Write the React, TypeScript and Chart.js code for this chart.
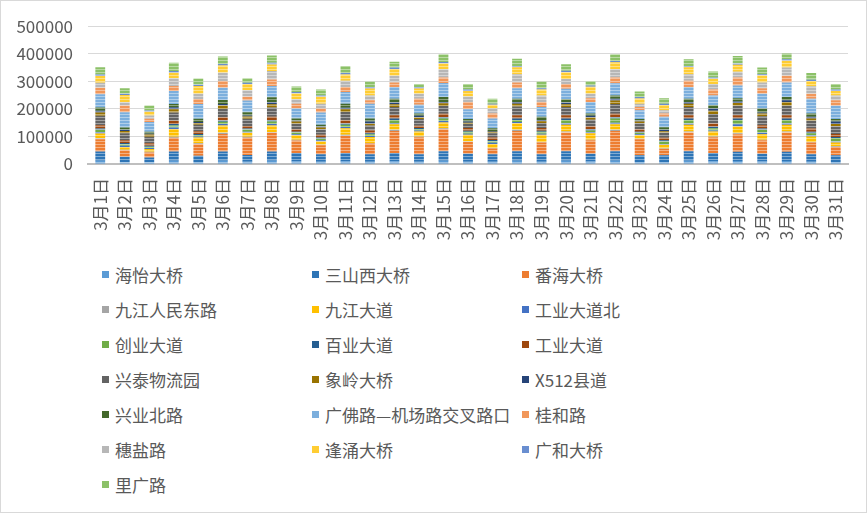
import React, { useRef, useEffect } from 'react';
import { Chart, registerables } from 'chart.js';

Chart.register(...registerables);

const FONT = '"Noto Sans CJK SC", "Noto Sans", sans-serif';
const TEXT_COLOR = '#595959';

const DAYS = [
  '3月1日', '3月2日', '3月3日', '3月4日', '3月5日', '3月6日', '3月7日', '3月8日',
  '3月9日', '3月10日', '3月11日', '3月12日', '3月13日', '3月14日', '3月15日', '3月16日',
  '3月17日', '3月18日', '3月19日', '3月20日', '3月21日', '3月22日', '3月23日', '3月24日',
  '3月25日', '3月26日', '3月27日', '3月28日', '3月29日', '3月30日', '3月31日',
];

const Y_TICKS = [0, 100000, 200000, 300000, 400000, 500000];

// one array per site, stacked bottom to top in this order
const haiyi = [12000, 6000, 6000, 12000, 7000, 12000, 8000, 12000, 10000, 8000, 10000, 8000, 10000, 8000, 12000, 8000, 8000, 12000, 8000, 12000, 9000, 12000, 7000, 7000, 12000, 10000, 11000, 9000, 11000, 8000, 7000];
const sanshanxi = [33000, 20000, 18000, 33000, 23000, 33000, 25000, 33000, 30000, 27000, 30000, 27000, 30000, 27000, 34000, 29000, 27000, 34000, 27000, 34000, 28000, 34000, 25000, 25000, 34000, 30000, 33000, 28000, 33000, 27000, 25000];
const fanhai = [45000, 24000, 18000, 50000, 42000, 64000, 62000, 68000, 45000, 33000, 62000, 39000, 80000, 62000, 80000, 43000, 21000, 74000, 43000, 68000, 49000, 74000, 58000, 22000, 68000, 57000, 64000, 49000, 70000, 43000, 30000];
const jiujiangRenmin = [3000, 2000, 2000, 4000, 3000, 4000, 4000, 3000, 3000, 2000, 4000, 2000, 4000, 3000, 4000, 2000, 2000, 4000, 2000, 4000, 2000, 4000, 2000, 2000, 4000, 3000, 4000, 2000, 4000, 2000, 2000];
const jiujiangDadao = [18000, 10000, 10000, 28000, 21000, 27000, 14000, 24000, 16000, 12000, 24000, 22000, 20000, 18000, 21000, 24000, 15000, 24000, 26000, 24000, 24000, 20000, 12000, 14000, 24000, 18000, 24000, 20000, 24000, 20000, 14000];
const gongyeBei = [5000, 4000, 4000, 5000, 4000, 5000, 4000, 5000, 4000, 4000, 4000, 4000, 5000, 4000, 5000, 4000, 4000, 4000, 4000, 6000, 4000, 6000, 4000, 3000, 5000, 4000, 8000, 5000, 6000, 4000, 4000];
const chuangye = [8000, 6000, 5000, 8000, 5000, 8000, 8000, 9000, 6000, 6000, 8000, 6000, 11000, 5000, 9000, 7000, 6000, 8000, 7000, 12000, 6000, 15000, 5000, 9000, 13000, 8000, 16000, 11000, 12000, 8000, 12000];
const baiye = [5000, 4000, 3000, 5000, 4000, 5000, 4000, 5000, 3000, 4000, 5000, 4000, 5000, 4000, 5000, 4000, 4000, 5000, 4000, 5000, 4000, 5000, 4000, 4000, 5000, 5000, 5000, 5000, 5000, 5000, 4000];
const gongye = [12000, 10000, 9000, 12000, 10000, 12000, 9000, 12000, 9000, 10000, 12000, 10000, 12000, 8000, 12000, 10000, 9000, 12000, 10000, 12000, 11000, 12000, 9000, 9000, 12000, 12000, 12000, 12000, 12000, 12000, 11000];
const xingtai = [34000, 26000, 24000, 30000, 23000, 30000, 26000, 34000, 20000, 20000, 30000, 18000, 30000, 24000, 28000, 14000, 16000, 32000, 18000, 30000, 24000, 36000, 22000, 18000, 30000, 34000, 34000, 32000, 34000, 28000, 28000];
const xiangling = [12000, 8000, 8000, 12000, 7000, 12000, 8000, 12000, 8000, 6000, 10000, 6000, 10000, 6000, 10000, 5000, 5000, 10000, 6000, 10000, 8000, 12000, 6000, 6000, 12000, 12000, 10000, 10000, 14000, 8000, 8000];
const x512 = [6000, 4000, 3000, 7000, 3000, 6000, 4000, 7000, 3000, 4000, 5000, 8000, 6000, 6000, 5000, 4000, 3000, 6000, 5000, 6000, 6000, 7000, 3000, 5000, 6000, 8000, 6000, 4000, 6000, 6000, 9000];
const xingyeBei = [12000, 8000, 7000, 12000, 12000, 14000, 12000, 18000, 8000, 6000, 15000, 11000, 14000, 8000, 18000, 9000, 10000, 12000, 11000, 12000, 8000, 12000, 6000, 9000, 12000, 12000, 12000, 14000, 12000, 12000, 9000];
const guangfo = [48000, 56000, 35000, 47000, 54000, 45000, 42000, 41000, 36000, 45000, 42000, 54000, 42000, 32000, 51000, 36000, 35000, 38000, 36000, 38000, 42000, 44000, 32000, 38000, 42000, 36000, 46000, 54000, 53000, 54000, 48000];
const guihe = [24000, 24000, 12000, 18000, 18000, 24000, 14000, 24000, 18000, 14000, 18000, 12000, 17000, 22000, 20000, 26000, 18000, 21000, 18000, 17000, 14000, 21000, 12000, 12000, 23000, 21000, 29000, 20000, 24000, 18000, 20000];
const suiyan = [18000, 12000, 12000, 28000, 19000, 30000, 24000, 30000, 16000, 18000, 23000, 18000, 24000, 18000, 30000, 20000, 18000, 30000, 24000, 18000, 16000, 30000, 12000, 12000, 24000, 20000, 21000, 21000, 30000, 27000, 18000];
const fengyong = [24000, 26000, 14000, 20000, 28000, 26000, 22000, 24000, 21000, 25000, 23000, 25000, 25000, 19000, 21000, 20000, 14000, 25000, 21000, 25000, 25000, 25000, 19000, 19000, 25000, 19000, 25000, 25000, 25000, 19000, 16000];
const guanghe = [6000, 5000, 4000, 6000, 5000, 6000, 5000, 6000, 5000, 5000, 5000, 5000, 5000, 5000, 5000, 5000, 4000, 5000, 5000, 5000, 5000, 5000, 5000, 5000, 5000, 5000, 5000, 5000, 5000, 5000, 5000];
const liguang = [26000, 20000, 18000, 30000, 22000, 27000, 16000, 27000, 20000, 21000, 26000, 20000, 21000, 11000, 28000, 20000, 18000, 26000, 24000, 24000, 15000, 24000, 20000, 20000, 24000, 22000, 27000, 24000, 21000, 24000, 20000];

const SERIES: { name: string; color: string; data: number[] }[] = [
  { name: '海怡大桥', color: '#5B9BD5', data: haiyi },
  { name: '三山西大桥', color: '#2E75B6', data: sanshanxi },
  { name: '番海大桥', color: '#ED7D31', data: fanhai },
  { name: '九江人民东路', color: '#A5A5A5', data: jiujiangRenmin },
  { name: '九江大道', color: '#FFC000', data: jiujiangDadao },
  { name: '工业大道北', color: '#4472C4', data: gongyeBei },
  { name: '创业大道', color: '#70AD47', data: chuangye },
  { name: '百业大道', color: '#255E91', data: baiye },
  { name: '工业大道', color: '#9E480E', data: gongye },
  { name: '兴泰物流园', color: '#636363', data: xingtai },
  { name: '象岭大桥', color: '#997300', data: xiangling },
  { name: 'X512县道', color: '#264478', data: x512 },
  { name: '兴业北路', color: '#43682B', data: xingyeBei },
  { name: '广佛路—机场路交叉路口', color: '#7CAFDD', data: guangfo },
  { name: '桂和路', color: '#F1975A', data: guihe },
  { name: '穗盐路', color: '#B7B7B7', data: suiyan },
  { name: '逢涌大桥', color: '#FFCD33', data: fengyong },
  { name: '广和大桥', color: '#698ED0', data: guanghe },
  { name: '里广路', color: '#8CC168', data: liguang },
];

// the reference bars have a faint horizontal stripe texture
function stripeFill(color: string): CanvasPattern | string {
  const c = document.createElement('canvas');
  c.width = 4;
  c.height = 3;
  const g = c.getContext('2d');
  if (!g) return color;
  g.fillStyle = color;
  g.fillRect(0, 0, 4, 3);
  g.fillStyle = 'rgba(255,255,255,0.4)';
  g.fillRect(0, 2, 4, 1);
  return g.createPattern(c, 'repeat') || color;
}

function Legend() {
  return (
    <div
      style={{
        position: 'absolute',
        left: 101,
        top: 256,
        display: 'grid',
        gridTemplateColumns: '210px 210px 210px',
        gridAutoRows: '35px',
      }}
    >
      {SERIES.map(s => (
        <div key={s.name} style={{ display: 'flex', alignItems: 'center', whiteSpace: 'nowrap' }}>
          <span style={{ width: 7, height: 7, background: s.color, marginRight: 6, flex: 'none' }} />
          <span style={{ font: `17px ${FONT}`, color: TEXT_COLOR }}>{s.name}</span>
        </div>
      ))}
    </div>
  );
}

export default function App() {
  const canvasRef = useRef<HTMLCanvasElement>(null);
  const chartRef = useRef<Chart | null>(null);

  useEffect(() => {
    const canvas = canvasRef.current;
    if (!canvas) return;

    chartRef.current?.destroy();

    chartRef.current = new Chart(canvas, {
      type: 'bar',
      data: {
        labels: DAYS,
        datasets: SERIES.map(s => ({
          label: s.name,
          data: s.data,
          backgroundColor: stripeFill(s.color),
          borderWidth: 0,
          barPercentage: 1,
          categoryPercentage: 0.4,
        })),
      },
      options: {
        animation: false,
        responsive: true,
        maintainAspectRatio: false,
        layout: { padding: { left: 8, right: 18, top: 22, bottom: 0 } },
        plugins: {
          legend: { display: false },
          tooltip: { enabled: false },
        },
        scales: {
          x: {
            stacked: true,
            grid: { display: false },
            border: { color: '#bfbfbf', width: 2 },
            ticks: {
              autoSkip: false,
              minRotation: 90,
              maxRotation: 90,
              padding: 6,
              color: TEXT_COLOR,
              font: { family: FONT, size: 17 },
            },
            afterFit: scale => { scale.height = 87; },
          },
          y: {
            stacked: true,
            min: 0,
            max: 500000,
            afterBuildTicks: scale => { scale.ticks = Y_TICKS.map(v => ({ value: v })); },
            grid: { color: '#d9d9d9', drawTicks: false },
            border: { display: false },
            ticks: {
              padding: 15,
              color: TEXT_COLOR,
              font: { family: FONT, size: 17 },
              callback: v => String(v),
            },
            afterFit: scale => { scale.width = 79; },
          },
        },
      },
    });

    return () => {
      chartRef.current?.destroy();
      chartRef.current = null;
    };
  }, []);

  return (
    <div
      style={{
        position: 'fixed',
        left: 0,
        top: 0,
        width: 867,
        height: 513,
        boxSizing: 'border-box',
        border: '1px solid #d9d9d9',
        background: '#fff',
      }}
    >
      <div style={{ position: 'absolute', left: 0, top: 0, width: 865, height: 250 }}>
        <canvas ref={canvasRef} />
      </div>
      <Legend />
    </div>
  );
}
